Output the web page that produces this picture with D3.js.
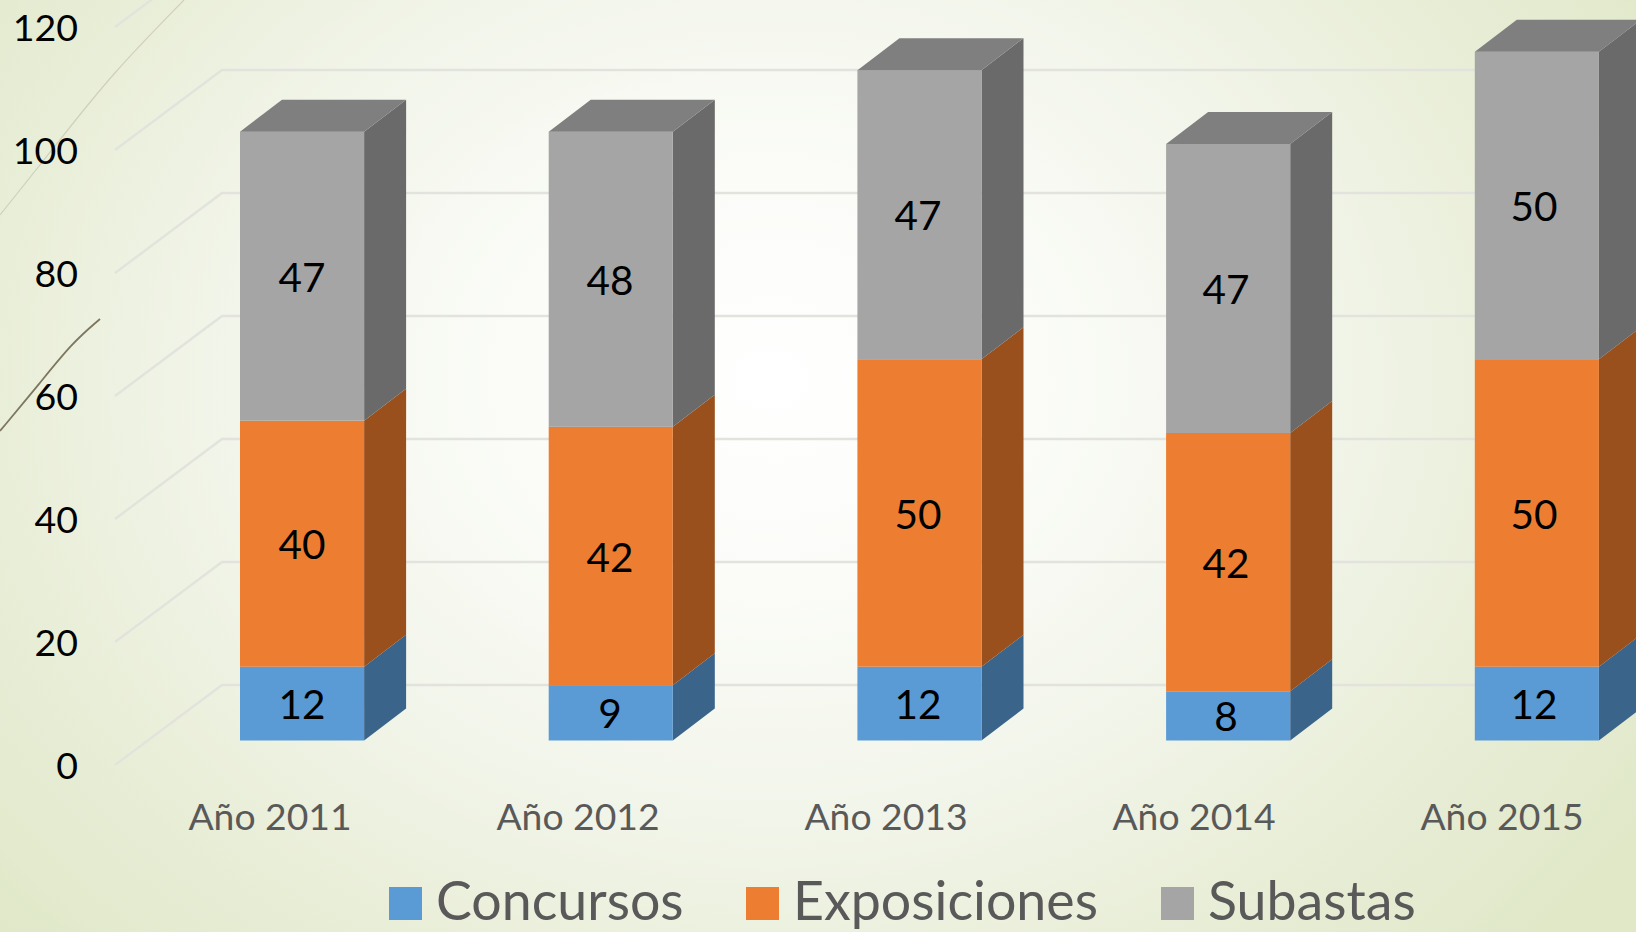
<!DOCTYPE html>
<html lang="es">

<head>
    <meta charset="UTF-8">
    <title>Concursos, Exposiciones, Subastas</title>
    <script src="https://cdnjs.cloudflare.com/ajax/libs/d3/7.8.5/d3.min.js"></script>
    <style>
        html, body { margin: 0; padding: 0; overflow: hidden; background: #fff; }
        svg { display: block; }
        text { font-family: Lato, "Noto Sans", sans-serif; }
    </style>
</head>

<body>
    <svg id="svg"></svg>
    <script>
        const years = ['Año 2011', 'Año 2012', 'Año 2013', 'Año 2014', 'Año 2015'];
        const seriesNames = ['Concursos', 'Exposiciones', 'Subastas'];
        const concursos = [12, 9, 12, 8, 12];
        const exposiciones = [40, 42, 50, 42, 50];
        const subastas = [47, 48, 47, 47, 50];
        const yTicks = [0, 20, 40, 60, 80, 100, 120];

        const width = 1636;
        const height = 932;
        const frontColors = ['#5b9bd5', '#ed7d31', '#a5a5a5'];
        const sideColors = ['#3a648a', '#99501d', '#6a6a6a'];
        const topColor = '#7f7f7f';
        const legendX = [389, 746, 1161];

        const svg = d3.select('#svg').attr('width', width).attr('height', height);

        // page background
        const grad = svg.append('defs').append('radialGradient')
            .attr('id', 'bg')
            .attr('gradientUnits', 'userSpaceOnUse')
            .attr('cx', 0).attr('cy', 0).attr('r', 1.3)
            .attr('gradientTransform', 'translate(770,380) scale(800,640)');
        grad.append('stop').attr('offset', 0).attr('stop-color', '#ffffff');
        grad.append('stop').attr('offset', 0.25).attr('stop-color', '#fbfcf8');
        grad.append('stop').attr('offset', 0.52).attr('stop-color', '#f2f5ea');
        grad.append('stop').attr('offset', 0.75).attr('stop-color', '#e9eed8');
        grad.append('stop').attr('offset', 1).attr('stop-color', '#e0e8c8');
        svg.append('rect').attr('width', width).attr('height', height).attr('fill', 'url(#bg)');

        // theme decoration lines
        const deco = d3.line().curve(d3.curveLinear);
        const decoCurve = d3.line().curve(d3.curveBasis);
        svg.append('path').attr('d', decoCurve([[0, 215], [60, 140], [110, 76], [184, 0]]))
            .attr('fill', 'none').attr('stroke', '#cfd0bc').attr('stroke-width', 1.2);
        svg.append('path').attr('d', decoCurve([[0, 431], [40, 383], [72, 343], [100, 319]]))
            .attr('fill', 'none').attr('stroke', '#7d775f').attr('stroke-width', 1.8);

        const y = d3.scaleLinear().domain([0, 120]).range([765, 27]);
        const yBar = d3.scaleLinear().domain([0, 120]).range([740.5, 2.5]);
        const xAxisScale = d3.scaleBand().domain(years).range([116, 1656]);
        const xBar = d3.scaleBand().domain(years).range([240, 1598.9]).paddingInner(0.598);

        // walls of the 3d box
        const wallX = 107;
        const wallY = 80;
        const grid = svg.append('g').attr('fill', 'none').attr('stroke', '#e2e3dd').attr('stroke-width', 2.4);
        grid.selectAll('path')
            .data(yTicks)
            .enter()
            .append('path')
            .attr('d', function(d) {
                return deco([[115, y(d)], [115 + wallX, y(d) - wallY], [width, y(d) - wallY]]);
            });

        const rows = years.map(function(year, i) {
            return { year: year, Concursos: concursos[i], Exposiciones: exposiciones[i], Subastas: subastas[i] };
        });
        const stacked = d3.stack().keys(seriesNames)(rows);

        // bars
        const depthX = 42;
        const depthY = 32;
        const bw = xBar.bandwidth();
        const bars = svg.append('g');
        years.forEach(function(year, i) {
            const g = bars.append('g');
            const x0 = xBar(year);
            const x1 = x0 + bw;
            const labelX = xAxisScale(year) + xAxisScale.step() / 2 + 32;
            stacked.forEach(function(s, k) {
                const top = yBar(s[i][1]);
                const bottom = yBar(s[i][0]);
                g.append('path')
                    .attr('d', deco([[x1, bottom], [x1 + depthX, bottom - depthY], [x1 + depthX, top - depthY], [x1, top]]) + 'Z')
                    .attr('fill', sideColors[k]);
                g.append('rect')
                    .attr('x', x0).attr('y', top)
                    .attr('width', bw).attr('height', bottom - top)
                    .attr('fill', frontColors[k]);
                g.append('text')
                    .attr('x', labelX).attr('y', (top + bottom) / 2 + 1)
                    .attr('dy', '0.36em')
                    .attr('text-anchor', 'middle')
                    .attr('font-size', 40.5)
                    .attr('fill', '#000')
                    .text(s[i].data[s.key]);
            });
            const t = yBar(stacked[2][i][1]);
            g.append('path')
                .attr('d', deco([[x0, t], [x0 + depthX, t - depthY], [x1 + depthX, t - depthY], [x1, t]]) + 'Z')
                .attr('fill', topColor);
        });

        // axes
        const yAxis = svg.append('g')
            .attr('transform', 'translate(115,1.5)')
            .call(d3.axisLeft(y).tickValues(yTicks).tickSize(0).tickPadding(37));
        yAxis.select('.domain').remove();
        yAxis.selectAll('text').attr('font-size', 37.5).attr('fill', '#000').style('font-family', 'Lato');

        const xAxis = svg.append('g')
            .attr('transform', 'translate(0,803.5)')
            .call(d3.axisBottom(xAxisScale).tickSize(0).tickPadding(0));
        xAxis.select('.domain').remove();
        xAxis.selectAll('text').attr('font-size', 37.3).attr('fill', '#595959').style('font-family', 'Lato');

        // legend
        const legend = svg.append('g').selectAll('g')
            .data(seriesNames)
            .enter()
            .append('g')
            .attr('transform', function(d, i) { return 'translate(' + legendX[i] + ',0)'; });
        legend.append('rect')
            .attr('y', 887).attr('width', 33).attr('height', 33)
            .attr('fill', function(d, i) { return frontColors[i]; });
        legend.append('text')
            .attr('x', 47).attr('y', 920)
            .attr('font-size', 53.7)
            .attr('fill', '#595959')
            .text(function(d) { return d; });
    </script>
</body>

</html>
